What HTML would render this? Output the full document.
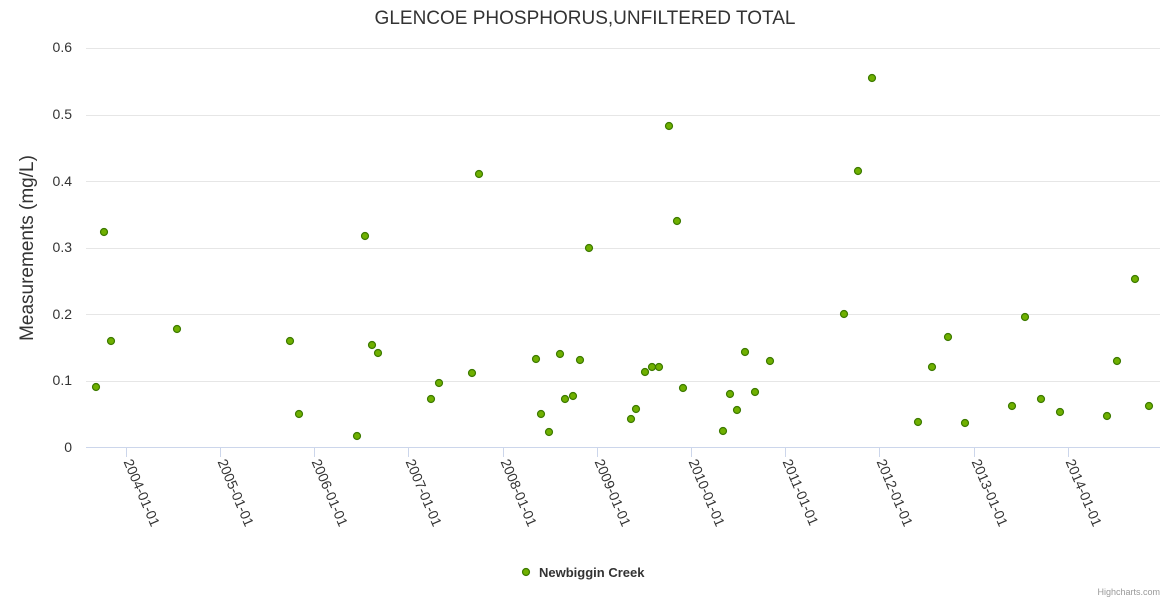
<!DOCTYPE html>
<html><head><meta charset="utf-8"><style>
body{margin:0;background:#fff;}
svg{display:block;font-family:"Liberation Sans","DejaVu Sans",sans-serif;}
</style></head><body>
<svg width="1170" height="600" viewBox="0 0 1170 600" xmlns="http://www.w3.org/2000/svg">
<rect width="1170" height="600" fill="#fff"/>
<text x="585" y="24" text-anchor="middle" font-size="19" fill="#333">GLENCOE PHOSPHORUS,UNFILTERED TOTAL</text>
<g stroke="#e6e6e6" stroke-width="1">
<line x1="86" x2="1160" y1="48.5" y2="48.5"/>
<line x1="86" x2="1160" y1="115.5" y2="115.5"/>
<line x1="86" x2="1160" y1="181.5" y2="181.5"/>
<line x1="86" x2="1160" y1="248.5" y2="248.5"/>
<line x1="86" x2="1160" y1="314.5" y2="314.5"/>
<line x1="86" x2="1160" y1="381.5" y2="381.5"/>
</g>
<line x1="86" x2="1160" y1="447.5" y2="447.5" stroke="#ccd6eb"/>
<g font-size="14" fill="#333" text-anchor="end">
<text x="72" y="52">0.6</text><text x="72" y="119">0.5</text><text x="72" y="186">0.4</text>
<text x="72" y="252">0.3</text><text x="72" y="319">0.2</text><text x="72" y="385">0.1</text><text x="72" y="452">0</text>
</g>
<text transform="translate(33,248) rotate(-90)" text-anchor="middle" font-size="19" fill="#333">Measurements (mg/L)</text>
<g stroke="#ccd6eb">
<line x1="126.5" x2="126.5" y1="447" y2="457"/><line x1="220.5" x2="220.5" y1="447" y2="457"/>
<line x1="314.5" x2="314.5" y1="447" y2="457"/><line x1="408.5" x2="408.5" y1="447" y2="457"/>
<line x1="503.5" x2="503.5" y1="447" y2="457"/><line x1="597.5" x2="597.5" y1="447" y2="457"/>
<line x1="691.5" x2="691.5" y1="447" y2="457"/><line x1="785.5" x2="785.5" y1="447" y2="457"/>
<line x1="879.5" x2="879.5" y1="447" y2="457"/><line x1="974.5" x2="974.5" y1="447" y2="457"/>
<line x1="1068.5" x2="1068.5" y1="447" y2="457"/>
</g>
<g font-size="14" fill="#333">
<text transform="translate(127,460) rotate(67)" dy="4">2004-01-01</text>
<text transform="translate(221,460) rotate(67)" dy="4">2005-01-01</text>
<text transform="translate(315,460) rotate(67)" dy="4">2006-01-01</text>
<text transform="translate(409,460) rotate(67)" dy="4">2007-01-01</text>
<text transform="translate(504,460) rotate(67)" dy="4">2008-01-01</text>
<text transform="translate(598,460) rotate(67)" dy="4">2009-01-01</text>
<text transform="translate(692,460) rotate(67)" dy="4">2010-01-01</text>
<text transform="translate(786,460) rotate(67)" dy="4">2011-01-01</text>
<text transform="translate(880,460) rotate(67)" dy="4">2012-01-01</text>
<text transform="translate(975,460) rotate(67)" dy="4">2013-01-01</text>
<text transform="translate(1069,460) rotate(67)" dy="4">2014-01-01</text>
</g>
<g fill="#6fb000" stroke="#3d7a00" stroke-width="1.2">
<circle cx="96" cy="387" r="3.5"/><circle cx="104" cy="232" r="3.5"/><circle cx="111" cy="341" r="3.5"/>
<circle cx="177" cy="329" r="3.5"/><circle cx="290" cy="341" r="3.5"/><circle cx="299" cy="414" r="3.5"/>
<circle cx="357" cy="436" r="3.5"/><circle cx="365" cy="236" r="3.5"/><circle cx="372" cy="345" r="3.5"/>
<circle cx="378" cy="353" r="3.5"/><circle cx="431" cy="399" r="3.5"/><circle cx="439" cy="383" r="3.5"/>
<circle cx="472" cy="373" r="3.5"/><circle cx="479" cy="174" r="3.5"/><circle cx="536" cy="359" r="3.5"/>
<circle cx="541" cy="414" r="3.5"/><circle cx="549" cy="432" r="3.5"/><circle cx="560" cy="354" r="3.5"/>
<circle cx="565" cy="399" r="3.5"/><circle cx="573" cy="396" r="3.5"/><circle cx="580" cy="360" r="3.5"/>
<circle cx="589" cy="248" r="3.5"/><circle cx="631" cy="419" r="3.5"/><circle cx="636" cy="409" r="3.5"/>
<circle cx="645" cy="372" r="3.5"/><circle cx="652" cy="367" r="3.5"/><circle cx="659" cy="367" r="3.5"/>
<circle cx="669" cy="126" r="3.5"/><circle cx="677" cy="221" r="3.5"/><circle cx="683" cy="388" r="3.5"/>
<circle cx="723" cy="431" r="3.5"/><circle cx="730" cy="394" r="3.5"/><circle cx="737" cy="410" r="3.5"/>
<circle cx="745" cy="352" r="3.5"/><circle cx="755" cy="392" r="3.5"/><circle cx="770" cy="361" r="3.5"/>
<circle cx="844" cy="314" r="3.5"/><circle cx="858" cy="171" r="3.5"/><circle cx="872" cy="78" r="3.5"/>
<circle cx="918" cy="422" r="3.5"/><circle cx="932" cy="367" r="3.5"/><circle cx="948" cy="337" r="3.5"/>
<circle cx="965" cy="423" r="3.5"/><circle cx="1012" cy="406" r="3.5"/><circle cx="1025" cy="317" r="3.5"/>
<circle cx="1041" cy="399" r="3.5"/><circle cx="1060" cy="412" r="3.5"/><circle cx="1107" cy="416" r="3.5"/>
<circle cx="1117" cy="361" r="3.5"/><circle cx="1135" cy="279" r="3.5"/><circle cx="1149" cy="406" r="3.5"/>
<circle cx="526" cy="572" r="3.5"/>
</g>
<text x="539" y="577" font-size="13" font-weight="bold" fill="#333">Newbiggin Creek</text>
<text x="1160" y="595" text-anchor="end" font-size="9" fill="#999">Highcharts.com</text>
</svg>
</body></html>
